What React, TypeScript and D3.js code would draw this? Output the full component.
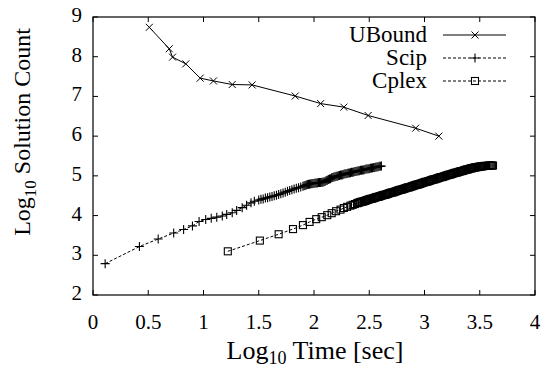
import React, { useEffect, useRef } from 'react';
import * as d3 from 'd3';

const xTicks = [0, 0.5, 1, 1.5, 2, 2.5, 3, 3.5, 4];
const yTicks = [2, 3, 4, 5, 6, 7, 8, 9];

const seriesNames = ['UBound', 'Scip', 'Cplex'];

const uboundData: [number, number][] = [
  [0.51, 8.74], [0.69, 8.2], [0.72, 7.99], [0.84, 7.82], [0.97, 7.46], [1.09, 7.39],
  [1.26, 7.3], [1.44, 7.29], [1.83, 7.01], [2.06, 6.82], [2.27, 6.73], [2.49, 6.52],
  [2.92, 6.2], [3.13, 6.0],
];

const scipData: [number, number][] = [
  [0.11, 2.79], [0.42, 3.22], [0.59, 3.41], [0.73, 3.56], [0.82, 3.65], [0.9, 3.74],
  [0.96, 3.85], [1.02, 3.9], [1.07, 3.93], [1.12, 3.96], [1.17, 3.99], [1.21, 4.03],
  [1.26, 4.07], [1.3, 4.13], [1.35, 4.2], [1.39, 4.26], [1.43, 4.32], [1.46, 4.36],
  [1.5, 4.39], [1.52, 4.41], [1.54, 4.42], [1.56, 4.44], [1.58, 4.45], [1.6, 4.47],
  [1.62, 4.48], [1.64, 4.5], [1.66, 4.51], [1.68, 4.53], [1.7, 4.55], [1.72, 4.57],
  [1.74, 4.59], [1.76, 4.61], [1.78, 4.63], [1.8, 4.65], [1.82, 4.67], [1.84, 4.69],
  [1.86, 4.7], [1.88, 4.72], [1.9, 4.74], [1.91, 4.75], [1.92, 4.76], [1.93, 4.77],
  [1.94, 4.78], [1.95, 4.79], [1.96, 4.79], [1.97, 4.8], [1.98, 4.8], [1.99, 4.81],
  [2.0, 4.81], [2.01, 4.82], [2.02, 4.82], [2.03, 4.82], [2.04, 4.83], [2.05, 4.83],
  [2.06, 4.83], [2.07, 4.84], [2.08, 4.84], [2.09, 4.85], [2.1, 4.86], [2.11, 4.88],
  [2.12, 4.89], [2.13, 4.91], [2.14, 4.92], [2.15, 4.93], [2.16, 4.95], [2.17, 4.96],
  [2.18, 4.97], [2.19, 4.98], [2.2, 4.99], [2.21, 4.99], [2.22, 5.0], [2.23, 5.01],
  [2.24, 5.02], [2.25, 5.02], [2.26, 5.03], [2.27, 5.04], [2.28, 5.05], [2.29, 5.05],
  [2.3, 5.06], [2.31, 5.07], [2.32, 5.07], [2.33, 5.08], [2.34, 5.09], [2.35, 5.09],
  [2.36, 5.1], [2.37, 5.11], [2.38, 5.11], [2.39, 5.12], [2.4, 5.12], [2.41, 5.13],
  [2.42, 5.14], [2.43, 5.14], [2.44, 5.15], [2.45, 5.15], [2.46, 5.16], [2.47, 5.17],
  [2.48, 5.17], [2.49, 5.18], [2.5, 5.18], [2.51, 5.19], [2.52, 5.2], [2.53, 5.2],
  [2.54, 5.21], [2.55, 5.21], [2.56, 5.22], [2.57, 5.22], [2.58, 5.23], [2.59, 5.24],
  [2.6, 5.24], [2.61, 5.25],
];

const cplexData: [number, number][] = [
  [1.22, 3.1], [1.51, 3.37], [1.68, 3.53], [1.81, 3.66], [1.9, 3.76], [1.96, 3.84],
  [2.02, 3.91], [2.07, 3.96], [2.12, 4.01], [2.16, 4.06], [2.2, 4.11], [2.24, 4.15],
  [2.27, 4.19], [2.3, 4.22], [2.33, 4.25], [2.35, 4.27], [2.37, 4.29], [2.39, 4.31],
  [2.4, 4.32], [2.41, 4.33], [2.42, 4.34], [2.43, 4.35], [2.44, 4.35], [2.45, 4.36],
  [2.46, 4.37], [2.47, 4.38], [2.48, 4.39], [2.49, 4.4], [2.5, 4.41], [2.51, 4.42],
  [2.52, 4.42], [2.53, 4.43], [2.54, 4.44], [2.55, 4.45], [2.56, 4.46], [2.57, 4.47],
  [2.58, 4.47], [2.59, 4.48], [2.6, 4.49], [2.61, 4.5], [2.62, 4.51], [2.63, 4.52],
  [2.64, 4.52], [2.65, 4.53], [2.66, 4.54], [2.67, 4.55], [2.68, 4.56], [2.69, 4.57],
  [2.7, 4.58], [2.71, 4.58], [2.72, 4.59], [2.73, 4.6], [2.74, 4.61], [2.75, 4.62],
  [2.76, 4.63], [2.77, 4.64], [2.78, 4.65], [2.79, 4.65], [2.8, 4.66], [2.81, 4.67],
  [2.82, 4.68], [2.83, 4.69], [2.84, 4.7], [2.85, 4.71], [2.86, 4.71], [2.87, 4.72],
  [2.88, 4.73], [2.89, 4.74], [2.9, 4.75], [2.91, 4.76], [2.92, 4.77], [2.93, 4.78],
  [2.94, 4.78], [2.95, 4.79], [2.96, 4.8], [2.97, 4.81], [2.98, 4.82], [2.99, 4.83],
  [3.0, 4.84], [3.01, 4.85], [3.02, 4.85], [3.03, 4.86], [3.04, 4.87], [3.05, 4.88],
  [3.06, 4.89], [3.07, 4.9], [3.08, 4.91], [3.09, 4.91], [3.1, 4.92], [3.11, 4.93],
  [3.12, 4.94], [3.13, 4.95], [3.14, 4.96], [3.15, 4.97], [3.16, 4.97], [3.17, 4.98],
  [3.18, 4.99], [3.19, 5.0], [3.2, 5.01], [3.21, 5.02], [3.22, 5.03], [3.23, 5.03],
  [3.24, 5.04], [3.25, 5.05], [3.26, 5.06], [3.27, 5.07], [3.28, 5.08], [3.29, 5.08],
  [3.3, 5.09], [3.31, 5.1], [3.32, 5.11], [3.33, 5.12], [3.34, 5.12], [3.35, 5.13],
  [3.36, 5.14], [3.37, 5.15], [3.38, 5.16], [3.39, 5.16], [3.4, 5.17], [3.41, 5.18],
  [3.42, 5.19], [3.43, 5.19], [3.44, 5.2], [3.45, 5.21], [3.46, 5.21], [3.47, 5.22],
  [3.48, 5.22], [3.49, 5.23], [3.5, 5.23], [3.51, 5.24], [3.52, 5.24], [3.53, 5.24],
  [3.54, 5.25], [3.55, 5.25], [3.56, 5.25], [3.57, 5.25], [3.58, 5.26], [3.59, 5.26],
  [3.6, 5.26], [3.61, 5.26], [3.62, 5.26],
];

const W = 543;
const H = 368;
const FONT = 'Liberation Serif';

const App = () => {
  const svgRef = useRef<SVGSVGElement>(null);

  useEffect(() => {
    const svg = d3.select(svgRef.current);
    svg.selectAll('*').remove();

    const margin = { top: 17, right: 8, bottom: 73, left: 93 };
    const x = d3.scaleLinear().domain([0, 4]).range([margin.left, W - margin.right]);
    const y = d3.scaleLinear().domain([2, 9]).range([H - margin.bottom, margin.top]);
    const tl = 5;

    // ticks, inward and mirrored on top/right
    const g = svg.append('g').attr('stroke', '#000').attr('stroke-width', 1);
    xTicks.forEach(t => {
      g.append('line').attr('x1', x(t)).attr('x2', x(t)).attr('y1', y(2)).attr('y2', y(2) - tl);
      g.append('line').attr('x1', x(t)).attr('x2', x(t)).attr('y1', y(9)).attr('y2', y(9) + tl);
    });
    yTicks.forEach(t => {
      g.append('line').attr('x1', x(0)).attr('x2', x(0) + tl).attr('y1', y(t)).attr('y2', y(t));
      g.append('line').attr('x1', x(4)).attr('x2', x(4) - tl).attr('y1', y(t)).attr('y2', y(t));
    });

    svg.append('rect')
      .attr('x', x(0)).attr('y', y(9))
      .attr('width', x(4) - x(0)).attr('height', y(2) - y(9))
      .attr('fill', 'none').attr('stroke', '#000').attr('stroke-width', 1.2);

    // tick labels
    svg.selectAll('.xt').data(xTicks).enter().append('text')
      .attr('x', d => x(d)).attr('y', y(2) + 34)
      .attr('text-anchor', 'middle')
      .attr('font-family', FONT).attr('font-size', 21)
      .text(d => String(d));
    svg.selectAll('.yt').data(yTicks).enter().append('text')
      .attr('x', x(0) - 11).attr('y', d => y(d) + 5)
      .attr('text-anchor', 'end')
      .attr('font-family', FONT).attr('font-size', 21)
      .text(d => String(d));

    // axis titles
    const xt = svg.append('text')
      .attr('x', 315).attr('y', H - 9)
      .attr('text-anchor', 'middle')
      .attr('font-family', FONT).attr('font-size', 26);
    xt.append('tspan').text('Log');
    xt.append('tspan').attr('font-size', 18).attr('dy', 5).text('10');
    xt.append('tspan').attr('dy', -5).text(' Time [sec]');

    const yt = svg.append('text')
      .attr('transform', `translate(30,132) rotate(-90)`)
      .attr('text-anchor', 'middle')
      .attr('font-family', FONT).attr('font-size', 24);
    yt.append('tspan').text('Log');
    yt.append('tspan').attr('font-size', 17).attr('dy', 6).text('10');
    yt.append('tspan').attr('dy', -6).text(' Solution Count');

    const line = d3.line<[number, number]>().x(d => x(d[0])).y(d => y(d[1]));

    const drawMarker = (sel: any, kind: string, cx: number, cy: number) => {
      if (kind === 'x') {
        const s = 3.5;
        sel.append('path').attr('d', `M${cx - s},${cy - s}L${cx + s},${cy + s}M${cx - s},${cy + s}L${cx + s},${cy - s}`)
          .attr('stroke', '#000').attr('stroke-width', 1).attr('fill', 'none');
      } else if (kind === '+') {
        sel.append('path').attr('d', `M${cx - 4.5},${cy}L${cx + 4.5},${cy}M${cx},${cy - 4.5}L${cx},${cy + 4.5}`)
          .attr('stroke', '#000').attr('stroke-width', 1.1).attr('fill', 'none');
      } else {
        sel.append('rect').attr('x', cx - 3.5).attr('y', cy - 3.5).attr('width', 7).attr('height', 7)
          .attr('stroke', '#000').attr('stroke-width', 1.1).attr('fill', 'none');
      }
    };

    const series = [
      { name: seriesNames[0], data: uboundData, dash: null, marker: 'x' },
      { name: seriesNames[1], data: scipData, dash: '3,2', marker: '+' },
      { name: seriesNames[2], data: cplexData, dash: '3,2', marker: 's' },
    ];

    series.forEach(s => {
      const p = svg.append('path').attr('d', line(s.data)).attr('fill', 'none')
        .attr('stroke', '#000').attr('stroke-width', 1);
      if (s.dash) p.attr('stroke-dasharray', s.dash);
      const mg = svg.append('g');
      s.data.forEach(d => drawMarker(mg, s.marker, x(d[0]), y(d[1])));
    });

    // legend
    const rows = [35, 58, 81];
    series.forEach((s, i) => {
      const ly = rows[i];
      svg.append('text').attr('x', 427).attr('y', ly + 7)
        .attr('text-anchor', 'end').attr('font-family', FONT).attr('font-size', 23)
        .text(s.name);
      const l = svg.append('line').attr('x1', 443).attr('x2', 506).attr('y1', ly).attr('y2', ly)
        .attr('stroke', '#000').attr('stroke-width', 1);
      if (s.dash) l.attr('stroke-dasharray', s.dash);
      drawMarker(svg.append('g'), s.marker, 475, ly);
    });
  }, []);

  return (
    <div style={{ position: 'absolute', left: 0, top: 0 }}>
      <svg ref={svgRef} width={W} height={H} style={{ display: 'block', background: '#fff' }} />
    </div>
  );
};

export default App;
